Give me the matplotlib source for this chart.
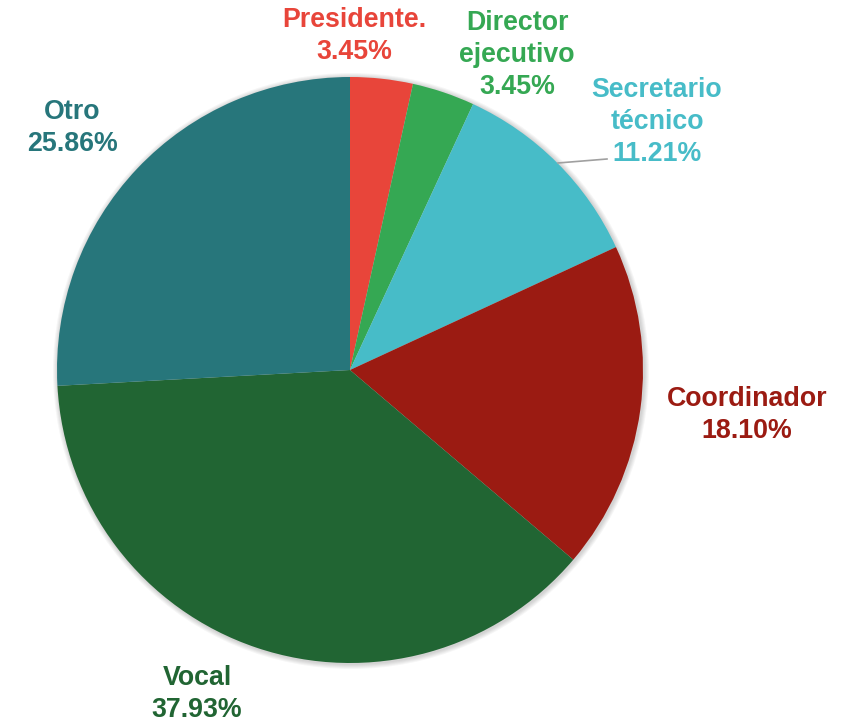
import matplotlib.pyplot as plt
from matplotlib.patches import Circle

# data, clockwise from 12 o'clock
labels = ['Presidente.', 'Director\nejecutivo', 'Secretario\ntécnico', 'Coordinador', 'Vocal', 'Otro']
values = [3.45, 3.45, 11.21, 18.10, 37.93, 25.86]
colors = ['#E8453A', '#35A853', '#47BCC8', '#9B1B12', '#216533', '#27767B']

# label block centres in pixel coordinates (x, y from top)
label_pos = [(354, 36), (517, 55), (657, 122), (747, 415), (197, 694), (72, 128)]

W, H = 848, 726
cx, cy, r = 350, 370, 293

fig = plt.figure(figsize=(W / 100, H / 100), dpi=100)
ax = fig.add_axes([0, 0, 1, 1])

# soft shadow round the pie
for k in range(1, 6):
    ax.add_patch(Circle((cx + 1, H - cy - 1), r + k, color='black', alpha=0.035, lw=0, zorder=0))

ax.pie(values, colors=colors, startangle=90, counterclock=False,
       center=(cx, H - cy), radius=r, frame=True,
       wedgeprops=dict(linewidth=0))
ax.set_xlim(0, W)
ax.set_ylim(0, H)
ax.axis('off')

for lab, v, c, (px, py) in zip(labels, values, colors, label_pos):
    ax.text(px, H - py, '{}\n{:.2f}%'.format(lab, v), color=c, ha='center', va='center',
            fontsize=19.3, fontweight='bold', family='Liberation Sans', linespacing=1.3)

# leader line for Secretario técnico
ax.plot([558, 607], [H - 163, H - 159], color='#A0A0A0', lw=1.2)

fig.savefig('out.png', dpi=100)
